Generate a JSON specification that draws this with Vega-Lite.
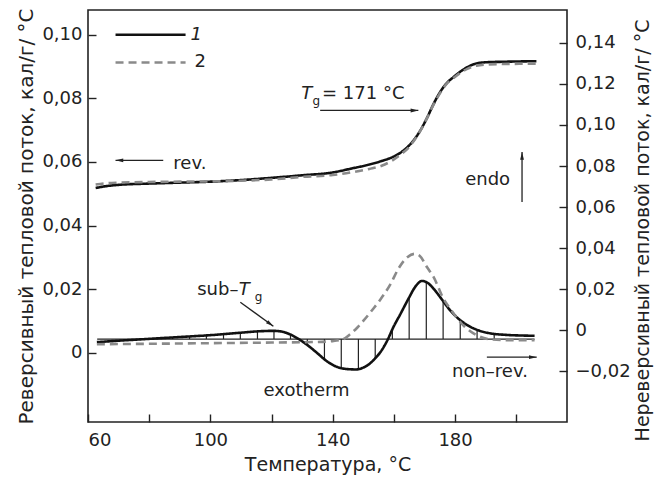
{
  "$schema": "https://vega.github.io/schema/vega-lite/v6.json",
  "width": 479,
  "height": 412,
  "autosize": "none",
  "padding": {"left": 88, "top": 10, "right": 91, "bottom": 57},
  "background": "white",
  "config": {
    "font": "DejaVu Sans",
    "view": {"stroke": "#222", "strokeWidth": 1.6},
    "axis": {
      "grid": false,
      "domain": false,
      "labelFont": "DejaVu Sans",
      "labelFontSize": 18,
      "labelColor": "#222",
      "titleFont": "DejaVu Sans",
      "titleFontSize": 20,
      "titleFontWeight": "normal",
      "titleColor": "#222",
      "tickColor": "#222",
      "tickWidth": 1.4,
      "tickSize": -8
    },
    "text": {"font": "DejaVu Sans", "fontSize": 18, "color": "#222"}
  },
  "datasets": {
    "curves": [
      {"T": 62.5, "v": 0.0518, "series": "1", "part": "rev"},
      {"T": 66, "v": 0.0524, "series": "1", "part": "rev"},
      {"T": 70, "v": 0.0528, "series": "1", "part": "rev"},
      {"T": 80, "v": 0.0532, "series": "1", "part": "rev"},
      {"T": 90, "v": 0.0535, "series": "1", "part": "rev"},
      {"T": 100, "v": 0.0538, "series": "1", "part": "rev"},
      {"T": 110, "v": 0.0543, "series": "1", "part": "rev"},
      {"T": 120, "v": 0.055, "series": "1", "part": "rev"},
      {"T": 130, "v": 0.0558, "series": "1", "part": "rev"},
      {"T": 140, "v": 0.0567, "series": "1", "part": "rev"},
      {"T": 146, "v": 0.0579, "series": "1", "part": "rev"},
      {"T": 152, "v": 0.0592, "series": "1", "part": "rev"},
      {"T": 156, "v": 0.0603, "series": "1", "part": "rev"},
      {"T": 159, "v": 0.0613, "series": "1", "part": "rev"},
      {"T": 162, "v": 0.0628, "series": "1", "part": "rev"},
      {"T": 165, "v": 0.0652, "series": "1", "part": "rev"},
      {"T": 167, "v": 0.0675, "series": "1", "part": "rev"},
      {"T": 169, "v": 0.0705, "series": "1", "part": "rev"},
      {"T": 171, "v": 0.0742, "series": "1", "part": "rev"},
      {"T": 173, "v": 0.0783, "series": "1", "part": "rev"},
      {"T": 175, "v": 0.0818, "series": "1", "part": "rev"},
      {"T": 177, "v": 0.0845, "series": "1", "part": "rev"},
      {"T": 179.5, "v": 0.0867, "series": "1", "part": "rev"},
      {"T": 182, "v": 0.0886, "series": "1", "part": "rev"},
      {"T": 184, "v": 0.0898, "series": "1", "part": "rev"},
      {"T": 187, "v": 0.091, "series": "1", "part": "rev"},
      {"T": 191, "v": 0.0914, "series": "1", "part": "rev"},
      {"T": 195, "v": 0.0915, "series": "1", "part": "rev"},
      {"T": 206.6, "v": 0.0917, "series": "1", "part": "rev"},

      {"T": 62.5, "v": 0.0529, "series": "2", "part": "rev"},
      {"T": 66, "v": 0.0533, "series": "2", "part": "rev"},
      {"T": 70, "v": 0.0535, "series": "2", "part": "rev"},
      {"T": 80, "v": 0.0537, "series": "2", "part": "rev"},
      {"T": 90, "v": 0.0538, "series": "2", "part": "rev"},
      {"T": 100, "v": 0.0539, "series": "2", "part": "rev"},
      {"T": 110, "v": 0.0541, "series": "2", "part": "rev"},
      {"T": 120, "v": 0.0545, "series": "2", "part": "rev"},
      {"T": 130, "v": 0.0553, "series": "2", "part": "rev"},
      {"T": 140, "v": 0.0559, "series": "2", "part": "rev"},
      {"T": 146, "v": 0.0567, "series": "2", "part": "rev"},
      {"T": 152, "v": 0.0578, "series": "2", "part": "rev"},
      {"T": 156, "v": 0.0588, "series": "2", "part": "rev"},
      {"T": 159, "v": 0.0602, "series": "2", "part": "rev"},
      {"T": 162, "v": 0.0622, "series": "2", "part": "rev"},
      {"T": 165, "v": 0.0647, "series": "2", "part": "rev"},
      {"T": 167, "v": 0.0673, "series": "2", "part": "rev"},
      {"T": 169, "v": 0.0704, "series": "2", "part": "rev"},
      {"T": 171, "v": 0.0741, "series": "2", "part": "rev"},
      {"T": 173, "v": 0.0781, "series": "2", "part": "rev"},
      {"T": 175, "v": 0.0815, "series": "2", "part": "rev"},
      {"T": 177, "v": 0.0843, "series": "2", "part": "rev"},
      {"T": 179.5, "v": 0.0864, "series": "2", "part": "rev"},
      {"T": 182, "v": 0.0882, "series": "2", "part": "rev"},
      {"T": 184, "v": 0.0893, "series": "2", "part": "rev"},
      {"T": 187, "v": 0.0903, "series": "2", "part": "rev"},
      {"T": 191, "v": 0.0907, "series": "2", "part": "rev"},
      {"T": 195, "v": 0.0908, "series": "2", "part": "rev"},
      {"T": 206.6, "v": 0.0909, "series": "2", "part": "rev"},

      {"T": 62.9, "v": -0.0058, "series": "1", "part": "nonrev"},
      {"T": 70, "v": -0.0051, "series": "1", "part": "nonrev"},
      {"T": 80, "v": -0.0042, "series": "1", "part": "nonrev"},
      {"T": 90, "v": -0.0033, "series": "1", "part": "nonrev"},
      {"T": 100, "v": -0.0024, "series": "1", "part": "nonrev"},
      {"T": 110, "v": -0.0012, "series": "1", "part": "nonrev"},
      {"T": 116, "v": -0.0005, "series": "1", "part": "nonrev"},
      {"T": 120.8, "v": -0.0003, "series": "1", "part": "nonrev"},
      {"T": 124, "v": -0.0009, "series": "1", "part": "nonrev"},
      {"T": 126.2, "v": -0.0021, "series": "1", "part": "nonrev"},
      {"T": 129, "v": -0.0044, "series": "1", "part": "nonrev"},
      {"T": 131.7, "v": -0.0072, "series": "1", "part": "nonrev"},
      {"T": 135, "v": -0.0112, "series": "1", "part": "nonrev"},
      {"T": 138, "v": -0.015, "series": "1", "part": "nonrev"},
      {"T": 141, "v": -0.0176, "series": "1", "part": "nonrev"},
      {"T": 144, "v": -0.0188, "series": "1", "part": "nonrev"},
      {"T": 147.5, "v": -0.0191, "series": "1", "part": "nonrev"},
      {"T": 150, "v": -0.0182, "series": "1", "part": "nonrev"},
      {"T": 152, "v": -0.0164, "series": "1", "part": "nonrev"},
      {"T": 154, "v": -0.0135, "series": "1", "part": "nonrev"},
      {"T": 156, "v": -0.0098, "series": "1", "part": "nonrev"},
      {"T": 158, "v": -0.0045, "series": "1", "part": "nonrev"},
      {"T": 160, "v": 0.002, "series": "1", "part": "nonrev"},
      {"T": 162, "v": 0.0075, "series": "1", "part": "nonrev"},
      {"T": 165, "v": 0.016, "series": "1", "part": "nonrev"},
      {"T": 167, "v": 0.0212, "series": "1", "part": "nonrev"},
      {"T": 169.2, "v": 0.024, "series": "1", "part": "nonrev"},
      {"T": 171, "v": 0.0231, "series": "1", "part": "nonrev"},
      {"T": 173, "v": 0.0202, "series": "1", "part": "nonrev"},
      {"T": 175.2, "v": 0.016, "series": "1", "part": "nonrev"},
      {"T": 178.4, "v": 0.0097, "series": "1", "part": "nonrev"},
      {"T": 181.7, "v": 0.0049, "series": "1", "part": "nonrev"},
      {"T": 184, "v": 0.0025, "series": "1", "part": "nonrev"},
      {"T": 187, "v": 0.0003, "series": "1", "part": "nonrev"},
      {"T": 191.4, "v": -0.0015, "series": "1", "part": "nonrev"},
      {"T": 196, "v": -0.0022, "series": "1", "part": "nonrev"},
      {"T": 206, "v": -0.0027, "series": "1", "part": "nonrev"},

      {"T": 62.9, "v": -0.0068, "series": "2", "part": "nonrev"},
      {"T": 80, "v": -0.0066, "series": "2", "part": "nonrev"},
      {"T": 100, "v": -0.0063, "series": "2", "part": "nonrev"},
      {"T": 120, "v": -0.006, "series": "2", "part": "nonrev"},
      {"T": 135, "v": -0.0057, "series": "2", "part": "nonrev"},
      {"T": 140, "v": -0.0053, "series": "2", "part": "nonrev"},
      {"T": 143.5, "v": -0.0043, "series": "2", "part": "nonrev"},
      {"T": 145.8, "v": -0.0018, "series": "2", "part": "nonrev"},
      {"T": 148, "v": 0.0012, "series": "2", "part": "nonrev"},
      {"T": 150.2, "v": 0.0049, "series": "2", "part": "nonrev"},
      {"T": 153, "v": 0.01, "series": "2", "part": "nonrev"},
      {"T": 155.6, "v": 0.015, "series": "2", "part": "nonrev"},
      {"T": 158.9, "v": 0.0225, "series": "2", "part": "nonrev"},
      {"T": 161.5, "v": 0.03, "series": "2", "part": "nonrev"},
      {"T": 164, "v": 0.035, "series": "2", "part": "nonrev"},
      {"T": 166.8, "v": 0.0372, "series": "2", "part": "nonrev"},
      {"T": 168.5, "v": 0.0362, "series": "2", "part": "nonrev"},
      {"T": 170.8, "v": 0.0308, "series": "2", "part": "nonrev"},
      {"T": 173, "v": 0.0259, "series": "2", "part": "nonrev"},
      {"T": 176.2, "v": 0.0154, "series": "2", "part": "nonrev"},
      {"T": 178.4, "v": 0.0105, "series": "2", "part": "nonrev"},
      {"T": 182.7, "v": 0.0024, "series": "2", "part": "nonrev"},
      {"T": 187.1, "v": -0.0024, "series": "2", "part": "nonrev"},
      {"T": 191.4, "v": -0.0044, "series": "2", "part": "nonrev"},
      {"T": 196, "v": -0.0048, "series": "2", "part": "nonrev"},
      {"T": 206, "v": -0.0049, "series": "2", "part": "nonrev"}
    ],
    "hatch": [
      {"T": 82.0, "top": -0.004},
      {"T": 87.6, "top": -0.0035},
      {"T": 93.2, "top": -0.0031},
      {"T": 98.7, "top": -0.0026},
      {"T": 104.3, "top": -0.0019},
      {"T": 109.8, "top": -0.0012},
      {"T": 115.4, "top": -0.0006},
      {"T": 120.8, "top": -0.0003},
      {"T": 126.2, "top": -0.0021},
      {"T": 131.7, "top": -0.0072},
      {"T": 137.3, "top": -0.0142},
      {"T": 142.8, "top": -0.0184},
      {"T": 148.4, "top": -0.019},
      {"T": 153.9, "top": -0.0137},
      {"T": 159.5, "top": 0.0005},
      {"T": 165.0, "top": 0.016},
      {"T": 170.6, "top": 0.0236},
      {"T": 176.1, "top": 0.014},
      {"T": 181.7, "top": 0.0049},
      {"T": 187.2, "top": 0.0003},
      {"T": 192.8, "top": -0.0018}
    ],
    "legend": [
      {"T": 69.0, "v": 0.1, "series": "1"},
      {"T": 91.9, "v": 0.1, "series": "1"},
      {"T": 69.0, "v": 0.0913, "series": "2"},
      {"T": 91.9, "v": 0.0913, "series": "2"}
    ],
    "texts": [
      {"T": 94.8, "v": 0.0913, "label": "2", "kind": "normal"},
      {"T": 87.9, "v": 0.0595, "label": "rev.", "kind": "normal"},
      {"T": 136.5, "v": 0.0815, "label": "= 171 °C", "kind": "normal"},
      {"T": 183.3, "v": 0.0542, "label": "endo", "kind": "normal"},
      {"T": 95.7, "v": 0.0196, "label": "sub–", "kind": "normal"},
      {"T": 117.4, "v": -0.0121, "label": "exotherm", "kind": "normal"},
      {"T": 179.0, "v": -0.0061, "label": "non–rev.", "kind": "normal"},
      {"T": 93.5, "v": 0.1, "label": "1", "kind": "italic"},
      {"T": 129.7, "v": 0.0815, "label": "T", "kind": "italic"},
      {"T": 109.3, "v": 0.0196, "label": "T", "kind": "italic"},
      {"T": 133.4, "v": 0.0792, "label": "g", "kind": "sub"},
      {"T": 114.5, "v": 0.0176, "label": "g", "kind": "sub"}
    ],
    "arrows": [
      {"T": 84.6, "v": 0.0605, "T2": 69.0, "v2": 0.0605, "dir": "left"},
      {"T": 135.9, "v": 0.0762, "T2": 168.0, "v2": 0.0762, "dir": "right"},
      {"T": 201.9, "v": 0.0474, "T2": 201.9, "v2": 0.0631, "dir": "up"},
      {"T": 109.8, "v": 0.0159, "T2": 120.6, "v2": 0.0083, "dir": "downright"},
      {"T": 190.4, "v": -0.0014, "T2": 206.7, "v2": -0.0014, "dir": "right"}
    ]
  },
  "resolve": {"scale": {"y": "independent"}},
  "layer": [
    {
      "layer": [
        {
          "data": {"name": "curves"},
          "transform": [{"filter": "datum.part === 'rev'"}],
          "mark": {"type": "line", "interpolate": "monotone", "strokeWidth": 2.6},
          "encoding": {
            "x": {
              "field": "T", "type": "quantitative",
              "scale": {"domain": [60, 216.6], "nice": false, "zero": false},
              "axis": {
                "title": "Температура, °C",
                "titleFontSize": 19,
                "values": [60, 70, 80, 90, 100, 110, 120, 130, 140, 150, 160, 170, 180, 190, 200, 210],
                "labelExpr": "indexof([60, 100, 140, 180], datum.value) >= 0 ? datum.label : ''",
                "labelPadding": 17,
                "titlePadding": 6
              }
            },
            "y": {
              "field": "v", "type": "quantitative",
              "scale": {"domain": [-0.0218, 0.1078], "nice": false, "zero": false},
              "axis": {
                "orient": "left",
                "title": "Реверсивный тепловой поток, кал/г/ °C",
                "values": [0, 0.02, 0.04, 0.06, 0.08, 0.1],
                "labelExpr": "datum.value == 0 ? '0' : replace(format(datum.value, '.2f'), '.', ',')",
                "labelPadding": 14,
                "titlePadding": 5
              }
            },
            "color": {"field": "series", "type": "nominal", "scale": {"domain": ["1", "2"], "range": ["#111111", "#8a8a8a"]}, "legend": null},
            "strokeDash": {"field": "series", "type": "nominal", "scale": {"domain": ["1", "2"], "range": [[1, 0], [8, 5]]}, "legend": null}
          }
        },
        {
          "data": {"name": "legend"},
          "mark": {"type": "line", "strokeWidth": 2.6},
          "encoding": {
            "x": {"field": "T", "type": "quantitative"},
            "y": {"field": "v", "type": "quantitative"},
            "color": {"field": "series", "type": "nominal", "scale": {"domain": ["1", "2"], "range": ["#111111", "#8a8a8a"]}, "legend": null},
            "strokeDash": {"field": "series", "type": "nominal", "scale": {"domain": ["1", "2"], "range": [[1, 0], [8, 5]]}, "legend": null}
          }
        },
        {
          "data": {"name": "arrows"},
          "mark": {"type": "rule", "strokeWidth": 1.3, "color": "#222"},
          "encoding": {
            "x": {"field": "T", "type": "quantitative"},
            "y": {"field": "v", "type": "quantitative"},
            "x2": {"field": "T2"},
            "y2": {"field": "v2"}
          }
        },
        {
          "data": {"name": "arrows"},
          "transform": [{"filter": "datum.dir === 'left'"}],
          "mark": {"type": "point", "shape": "M0,0L0.55,2.2L-0.55,2.2Z", "filled": true, "size": 49, "color": "#222", "opacity": 1, "strokeWidth": 0, "angle": 270},
          "encoding": {"x": {"field": "T2", "type": "quantitative"}, "y": {"field": "v2", "type": "quantitative"}}
        },
        {
          "data": {"name": "arrows"},
          "transform": [{"filter": "datum.dir === 'right'"}],
          "mark": {"type": "point", "shape": "M0,0L0.55,2.2L-0.55,2.2Z", "filled": true, "size": 49, "color": "#222", "opacity": 1, "strokeWidth": 0, "angle": 90},
          "encoding": {"x": {"field": "T2", "type": "quantitative"}, "y": {"field": "v2", "type": "quantitative"}}
        },
        {
          "data": {"name": "arrows"},
          "transform": [{"filter": "datum.dir === 'up'"}],
          "mark": {"type": "point", "shape": "M0,0L0.55,2.2L-0.55,2.2Z", "filled": true, "size": 49, "color": "#222", "opacity": 1, "strokeWidth": 0, "angle": 0},
          "encoding": {"x": {"field": "T2", "type": "quantitative"}, "y": {"field": "v2", "type": "quantitative"}}
        },
        {
          "data": {"name": "arrows"},
          "transform": [{"filter": "datum.dir === 'downright'"}],
          "mark": {"type": "point", "shape": "M0,0L0.55,2.2L-0.55,2.2Z", "filled": true, "size": 49, "color": "#222", "opacity": 1, "strokeWidth": 0, "angle": 126},
          "encoding": {"x": {"field": "T2", "type": "quantitative"}, "y": {"field": "v2", "type": "quantitative"}}
        },
        {
          "data": {"name": "texts"},
          "transform": [{"filter": "datum.kind === 'normal'"}],
          "mark": {"type": "text", "align": "left", "baseline": "middle", "fontSize": 18},
          "encoding": {"x": {"field": "T", "type": "quantitative"}, "y": {"field": "v", "type": "quantitative"}, "text": {"field": "label"}}
        },
        {
          "data": {"name": "texts"},
          "transform": [{"filter": "datum.kind === 'italic'"}],
          "mark": {"type": "text", "align": "left", "baseline": "middle", "fontSize": 18, "fontStyle": "italic"},
          "encoding": {"x": {"field": "T", "type": "quantitative"}, "y": {"field": "v", "type": "quantitative"}, "text": {"field": "label"}}
        },
        {
          "data": {"name": "texts"},
          "transform": [{"filter": "datum.kind === 'sub'"}],
          "mark": {"type": "text", "align": "left", "baseline": "middle", "fontSize": 12},
          "encoding": {"x": {"field": "T", "type": "quantitative"}, "y": {"field": "v", "type": "quantitative"}, "text": {"field": "label"}}
        }
      ]
    },
    {
      "layer": [
        {
          "data": {"name": "hatch"},
          "mark": {"type": "rule", "strokeWidth": 1.2, "color": "#222"},
          "encoding": {
            "x": {"field": "T", "type": "quantitative"},
            "y": {"field": "top", "type": "quantitative",
              "scale": {"domain": [-0.0447, 0.156], "nice": false, "zero": false},
              "axis": {
                "orient": "right",
                "title": "Нереверсивный тепловой поток, кал/г/ °C",
                "titleFontSize": 19,
                "titleAngle": 270,
                "titleBaseline": "top",
                "titleY": 220,
                "values": [-0.02, 0, 0.02, 0.04, 0.06, 0.08, 0.1, 0.12, 0.14],
                "labelExpr": "datum.value == 0 ? '0' : replace(format(datum.value, '.2f'), '.', ',')",
                "labelPadding": 16,
                "titlePadding": 3
              }
            },
            "y2": {"datum": -0.0043}
          }
        },
        {
          "data": {"values": [{"a": 63, "b": 206}]},
          "mark": {"type": "rule", "strokeWidth": 1.2, "color": "#222"},
          "encoding": {
            "x": {"field": "a", "type": "quantitative"},
            "x2": {"field": "b"},
            "y": {"datum": -0.0043}
          }
        },
        {
          "data": {"name": "curves"},
          "transform": [{"filter": "datum.part === 'nonrev'"}],
          "mark": {"type": "line", "interpolate": "monotone", "strokeWidth": 2.6},
          "encoding": {
            "x": {"field": "T", "type": "quantitative"},
            "y": {"field": "v", "type": "quantitative"},
            "color": {"field": "series", "type": "nominal", "scale": {"domain": ["1", "2"], "range": ["#111111", "#8a8a8a"]}, "legend": null},
            "strokeDash": {"field": "series", "type": "nominal", "scale": {"domain": ["1", "2"], "range": [[1, 0], [8, 5]]}, "legend": null}
          }
        }
      ]
    }
  ]
}
